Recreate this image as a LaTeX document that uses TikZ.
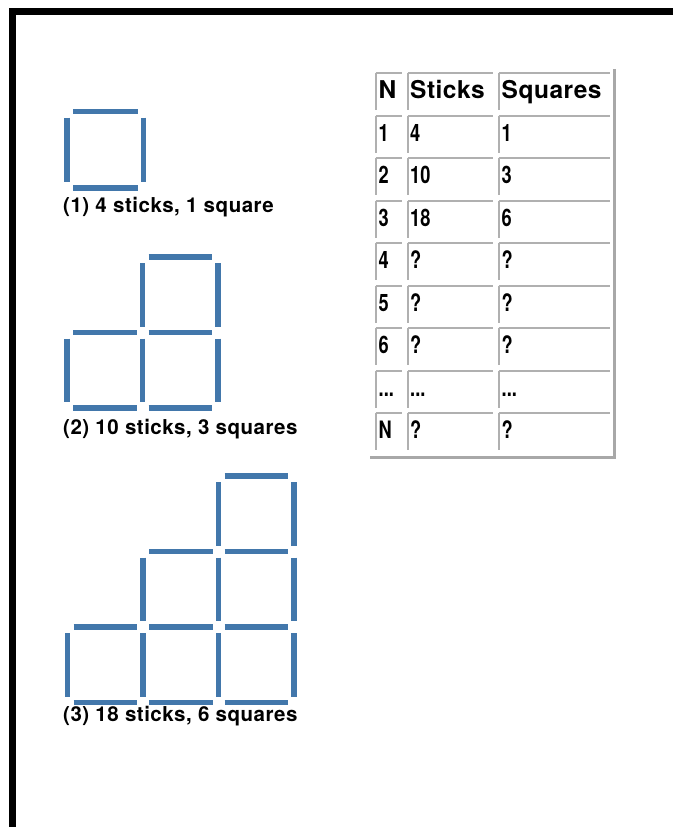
\documentclass[tikz,border=0pt]{standalone}
\usepackage{fontspec}
\setmainfont{TeX Gyre Heros}
\newfontfamily\capfont[LetterSpace=2.5]{TeX Gyre Heros}
\newfontfamily\headfont[LetterSpace=2]{TeX Gyre Heros}
\newfontfamily\bodyfont[FakeStretch=0.76]{TeX Gyre Heros}
\definecolor{stickblue}{RGB}{66,119,171}
\definecolor{cellgray}{RGB}{176,176,176}
\definecolor{outergray}{RGB}{168,168,168}
\tikzset{
  stick/.style={line width=5.5pt, draw=stickblue, line cap=butt},
  capt/.style={anchor=base west, inner sep=0pt, font=\capfont\bfseries\fontsize{20.5}{24}\selectfont},
  head/.style={anchor=base west, inner sep=0pt, font=\headfont\bfseries\fontsize{24.5}{28}\selectfont},
  cell/.style={anchor=base west, inner sep=0pt, font=\bodyfont\bfseries\fontsize{24}{28}\selectfont},
  cellline/.style={draw=cellgray, line width=2pt},
  outerline/.style={draw=outergray, line width=2.5pt},
  frame/.style={fill=black, draw=none}
}
\begin{document}
\begin{tikzpicture}[x=1pt, y=-1pt]
\useasboundingbox (0,0) rectangle (673,827);
% black frame
\fill[frame] (9,8) rectangle (673,15);
\fill[frame] (9,8) rectangle (16,827);

% ---------- figure 1 ----------
\def\X{67}\def\Y{111.5}\def\S{76.5}
\foreach \c/\r in {0/0, 0/1}
  \draw[stick] ({\X+\c*\S+6},{\Y+\r*\S}) -- ({\X+(\c+1)*\S-6},{\Y+\r*\S});
\foreach \c/\r in {0/0, 1/0}
  \draw[stick] ({\X+\c*\S},{\Y+\r*\S+6}) -- ({\X+\c*\S},{\Y+(\r+1)*\S-6});
\node[capt] (cap1) at (63,212.5) {(1) 4 sticks, 1 square};

% ---------- figure 2 ----------
\def\X{67}\def\Y{257}\def\S{75.5}
\foreach \c/\r in {1/0, 0/1, 1/1, 0/2, 1/2}
  \draw[stick] ({\X+\c*\S+6},{\Y+\r*\S}) -- ({\X+(\c+1)*\S-6},{\Y+\r*\S});
\foreach \c/\r in {1/0, 2/0, 0/1, 1/1, 2/1}
  \draw[stick] ({\X+\c*\S},{\Y+\r*\S+6}) -- ({\X+\c*\S},{\Y+(\r+1)*\S-6});
\node[capt] (cap2) at (63,434) {(2) 10 sticks, 3 squares};

% ---------- figure 3 ----------
\def\X{67.5}\def\Y{476}\def\S{75.5}
\foreach \c/\r in {2/0, 1/1, 2/1, 0/2, 1/2, 2/2, 0/3, 1/3, 2/3}
  \draw[stick] ({\X+\c*\S+6},{\Y+\r*\S}) -- ({\X+(\c+1)*\S-6},{\Y+\r*\S});
\foreach \c/\r in {2/0, 3/0, 1/1, 2/1, 3/1, 0/2, 1/2, 2/2, 3/2}
  \draw[stick] ({\X+\c*\S},{\Y+\r*\S+6}) -- ({\X+\c*\S},{\Y+(\r+1)*\S-6});
\node[capt] (cap3) at (63,721) {(3) 18 sticks, 6 squares};

% ---------- table ----------
\foreach \i in {0,...,8}{
  \foreach \l/\rr in {375.5/402, 407.5/493, 498.5/609.5}{
    \draw[cellline] (\l,{73+42.5*\i}) -- (\rr,{73+42.5*\i});
    \draw[cellline] (\l,{73+42.5*\i}) -- (\l,{73+42.5*\i+37});
  }
}
\draw[outerline] (614.5,69) -- (614.5,457.5);
\draw[outerline] (370,457.5) -- (615.75,457.5);

\node[head] (h1) at (378.5,98.5) {N};
\node[head] (h2) at (410,98.5) {Sticks};
\node[head] (h3) at (501.5,98.5) {Squares};

\node[cell] (a1) at (378.5,141) {1};
\node[cell] (b1) at (410,141) {4};
\node[cell] (c1) at (501.5,141) {1};
\node[cell] (a2) at (378.5,183.5) {2};
\node[cell] (b2) at (410,183.5) {10};
\node[cell] (c2) at (501.5,183.5) {3};
\node[cell] (a3) at (378.5,226) {3};
\node[cell] (b3) at (410,226) {18};
\node[cell] (c3) at (501.5,226) {6};
\node[cell] (a4) at (378.5,268.5) {4};
\node[cell] (b4) at (410,268.5) {?};
\node[cell] (c4) at (501.5,268.5) {?};
\node[cell] (a5) at (378.5,311) {5};
\node[cell] (b5) at (410,311) {?};
\node[cell] (c5) at (501.5,311) {?};
\node[cell] (a6) at (378.5,353.5) {6};
\node[cell] (b6) at (410,353.5) {?};
\node[cell] (c6) at (501.5,353.5) {?};
\node[cell] (a7) at (378.5,396) {...};
\node[cell] (b7) at (410,396) {...};
\node[cell] (c7) at (501.5,396) {...};
\node[cell] (a8) at (378.5,438.5) {N};
\node[cell] (b8) at (410,438.5) {?};
\node[cell] (c8) at (501.5,438.5) {?};
\end{tikzpicture}
\end{document}
